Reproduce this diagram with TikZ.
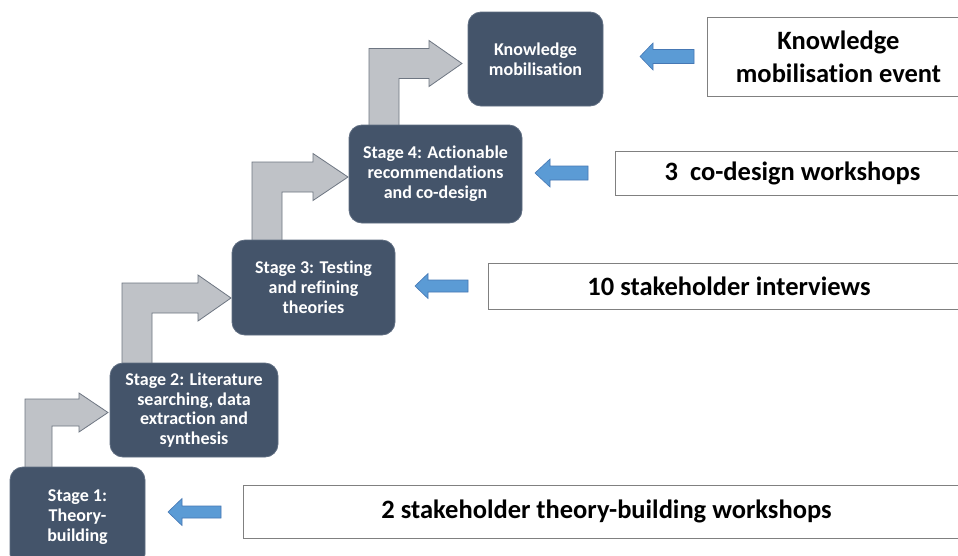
\documentclass[tikz,border=0pt]{standalone}
\usepackage{fontspec}
\setmainfont{Carlito}[Ligatures={NoCommon}]
\definecolor{boxfill}{RGB}{68,84,106}
\definecolor{boxline}{RGB}{96,110,130}
\definecolor{grayfill}{RGB}{191,194,199}
\definecolor{grayline}{RGB}{110,118,130}
\definecolor{bluefill}{RGB}{91,155,213}
\definecolor{blueline}{RGB}{70,120,180}
\definecolor{whiteline}{RGB}{128,128,128}
\tikzset{
  stagebox/.style={draw=boxline, line width=0.8pt, fill=boxfill, rounded corners=13pt,
    text=white, font=\bfseries\fontsize{18}{19.8}\selectfont, align=center, inner sep=0pt},
  infobox/.style={draw=whiteline, line width=1pt, fill=white, text=black,
    font=\bfseries\fontsize{26.5}{33}\selectfont, align=center, inner sep=0pt},
  grayarrow/.style={draw=grayline, line width=0.8pt, fill=grayfill, line join=miter},
  bluearrow/.style={draw=blueline, line width=0.6pt, fill=bluefill, line join=miter}
}
% cx, w, cy, tx, L, h, yb
\newcommand\bentarrow[7]{%
\draw[grayarrow] ({#1-#2},#7) -- ({#1-#2},{#3-#2}) -- ({#4-#5},{#3-#2}) -- ({#4-#5},{#3-#6}) -- (#4,#3) -- ({#4-#5},{#3+#6}) -- ({#4-#5},{#3+#2}) -- ({#1+#2},{#3+#2}) -- ({#1+#2},#7) -- cycle;}
% tx, cy, L, h, w, ex
\newcommand\leftblockarrow[6]{%
\draw[bluearrow] (#1,#2) -- ({#1+#3},{#2-#4}) -- ({#1+#3},{#2-#5}) -- (#6,{#2-#5}) -- (#6,{#2+#5}) -- ({#1+#3},{#2+#5}) -- ({#1+#3},{#2+#4}) -- cycle;}
\begin{document}
\begin{tikzpicture}[x=1pt,y=-1pt]
\useasboundingbox (0,0) rectangle (958,555);
\clip (0,0) rectangle (958,555);
\fill[white] (0,0) rectangle (958,555);
% gray bent arrows
\bentarrow{38.5}{13.5}{412.5}{108}{29}{19.5}{470}
\bentarrow{137}{15}{298}{231}{33}{23}{366}
\bentarrow{267}{15}{177}{348}{35}{23.5}{243}
\bentarrow{384}{15}{63.5}{462}{33}{23}{128}
% stage boxes
\node[stagebox, minimum width=135pt, minimum height=100pt] (s1) at (77.5,517) {Stage 1:\\Theory-\\building};
\node[stagebox, minimum width=168pt, minimum height=94pt] (s2) at (194,410) {Stage 2: Literature\\searching, data\\extraction and\\synthesis};
\node[stagebox, minimum width=163pt, minimum height=95pt] (s3) at (313.5,287.5) {Stage 3: Testing\\and refining\\theories};
\node[stagebox, minimum width=173pt, minimum height=98pt] (s4) at (435.5,174) {Stage 4: Actionable\\recommendations\\and co-design};
\node[stagebox, minimum width=135pt, minimum height=94pt] (km) at (535.5,59) {Knowledge\\mobilisation};
% info boxes
\node[infobox, minimum width=263pt, minimum height=79pt] (e5) at (838.5,56.5) {Knowledge\\mobilisation event};
\node[infobox, minimum width=355pt, minimum height=44pt] (e4) at (792.5,173) {3\ \ co-design workshops};
\node[infobox, minimum width=482pt, minimum height=46pt] (e3) at (729,286) {10 stakeholder interviews};
\node[infobox, minimum width=727pt, minimum height=53pt] (e1) at (606.5,511.5) {2 stakeholder theory-building workshops};
% blue arrows
\leftblockarrow{168}{512}{14}{13.5}{6}{221}
\leftblockarrow{415}{286}{13}{12.5}{6}{468}
\leftblockarrow{535}{173}{15}{14}{7}{588}
\leftblockarrow{640}{56.5}{13}{13.5}{7}{694}
\end{tikzpicture}
\end{document}
